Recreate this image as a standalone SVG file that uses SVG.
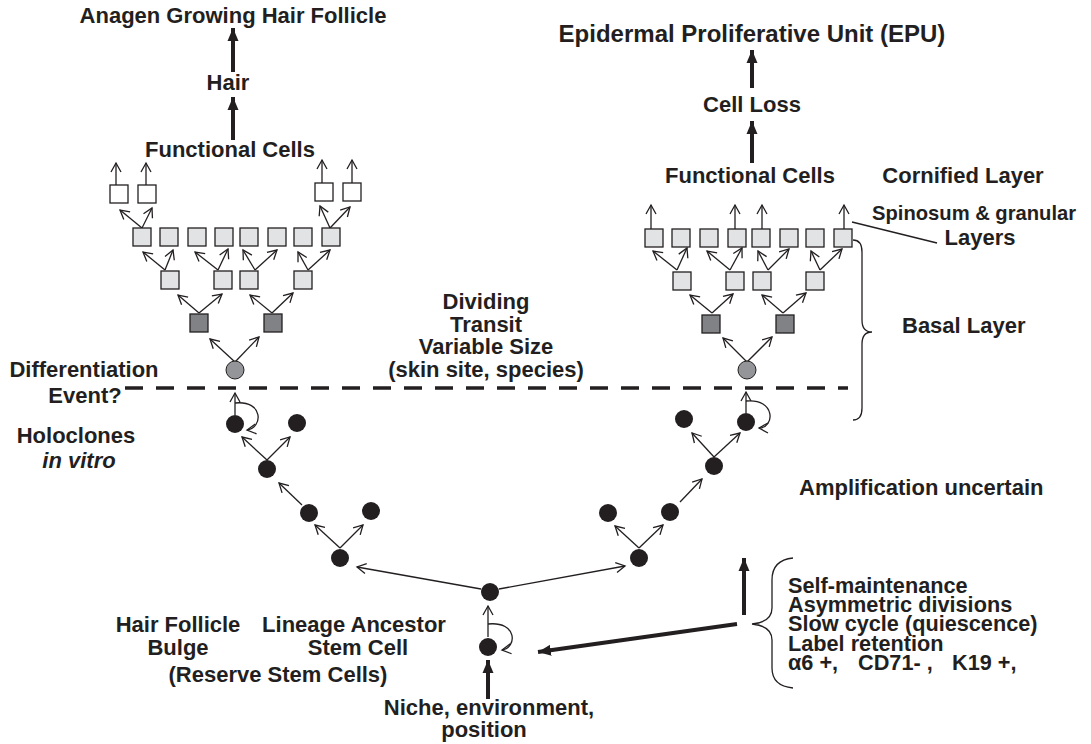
<svg xmlns="http://www.w3.org/2000/svg" width="1091" height="744" viewBox="0 0 1091 744">
<style>
text{font-family:"Liberation Sans",Arial,sans-serif;font-weight:bold;font-size:22px;fill:#231f20}
.m{text-anchor:middle}
.lst{font-size:21.7px}
.ln{stroke:#231f20;stroke-width:1.3;fill:none;marker-end:url(#open)}
.thick{stroke:#231f20;stroke-width:4;fill:none;marker-end:url(#solid)}
.sqW{fill:#ffffff;stroke:#231f20;stroke-width:1.3}
.sqL{fill:#e2e3e4;stroke:#231f20;stroke-width:1.3}
.sqD{fill:#808285;stroke:#231f20;stroke-width:1.3}
.cB{fill:#231f20}
.cG{fill:#939598;stroke:#231f20;stroke-width:1}
.br{stroke:#231f20;stroke-width:1.3;fill:none}
</style>
<defs>
<marker id="open" viewBox="-10 -6 12 12" refX="0" refY="0" markerWidth="12" markerHeight="12" markerUnits="userSpaceOnUse" orient="auto">
<path d="M-9,-5 L0,0 L-9,5" fill="none" stroke="#231f20" stroke-width="1.3"/>
</marker>
<marker id="solid" viewBox="-13 -7 14 14" refX="0" refY="0" markerWidth="14" markerHeight="14" markerUnits="userSpaceOnUse" orient="auto">
<path d="M-13,-5.5 L0,0 L-13,5.5 Z" fill="#231f20"/>
</marker>
</defs>

<!-- Labels -->
<g id="labels">
<text class="m" x="233" y="23">Anagen Growing Hair Follicle</text>
<text class="m" x="228" y="90">Hair</text>
<text class="m" x="230" y="157">Functional Cells</text>
<text class="m" x="752" y="42" style="font-size:24px">Epidermal Proliferative Unit (EPU)</text>
<text class="m" x="752" y="112">Cell Loss</text>
<text class="m" x="750" y="183">Functional Cells</text>
<text class="m" x="963" y="183">Cornified Layer</text>
<text x="872" y="220" style="font-size:20.2px">Spinosum &amp; granular</text>
<text class="m" x="980" y="245">Layers</text>
<text x="902" y="333">Basal Layer</text>
<text class="m" x="486" y="309">Dividing</text>
<text class="m" x="486" y="332">Transit</text>
<text class="m" x="486" y="354">Variable Size</text>
<text class="m" x="486" y="377">(skin site, species)</text>
<text class="m" x="84" y="377">Differentiation</text>
<text class="m" x="85" y="403">Event?</text>
<text class="m" x="76" y="443">Holoclones</text>
<text class="m" x="79" y="468" font-style="italic">in vitro</text>
<text x="799" y="495">Amplification uncertain</text>
<text class="m" x="178" y="632">Hair Follicle</text>
<text class="m" x="178" y="655">Bulge</text>
<text class="m" x="354" y="632">Lineage Ancestor</text>
<text class="m" x="358" y="655">Stem Cell</text>
<text class="m" x="278" y="682">(Reserve Stem Cells)</text>
<text class="m" x="489" y="715">Niche, environment,</text>
<text class="m" x="484" y="737">position</text>
<text class="lst" x="788" y="593">Self-maintenance</text>
<text class="lst" x="788" y="612">Asymmetric divisions</text>
<text class="lst" x="788" y="631">Slow cycle (quiescence)</text>
<text class="lst" x="788" y="651">Label retention</text>
<text class="lst" y="670"><tspan x="788">α6 +,</tspan><tspan x="858">CD71- ,</tspan><tspan x="952">K19 +,</tspan></text>
</g>

<!-- Connectors -->
<g id="connectors">
<line x1="125" y1="388" x2="848" y2="388" stroke="#231f20" stroke-width="3.5" stroke-dasharray="18 13"/>
<line x1="852" y1="222" x2="937" y2="243" stroke="#231f20" stroke-width="1.5"/>
<path class="br" d="M853,240 Q862,240 862,252 L862,320 Q862,332 872,332 Q862,332 862,344 L862,408 Q862,420 853,420"/>
<path class="br" d="M793,558 Q772,560 772,580 L772,608 Q772,622 752,624 Q772,626 772,640 L772,668 Q772,686 793,688"/>

<!-- thick arrows -->
<line class="thick" x1="233" y1="72" x2="233" y2="28"/>
<line class="thick" x1="233" y1="140" x2="233" y2="97"/>
<line class="thick" x1="752" y1="88" x2="752" y2="50"/>
<line class="thick" x1="752" y1="163" x2="752" y2="121"/>
<line class="thick" x1="488" y1="699" x2="488" y2="660"/>
<line class="thick" x1="737" y1="624" x2="538" y2="652"/>
<line class="thick" x1="744" y1="615" x2="744" y2="558"/>

<!-- left upper tree -->
<line class="ln" x1="235" y1="362" x2="210" y2="339"/>
<line class="ln" x1="235" y1="362" x2="259" y2="337"/>
<line class="ln" x1="199" y1="313" x2="178" y2="295"/>
<line class="ln" x1="199" y1="313" x2="222" y2="294"/>
<line class="ln" x1="272" y1="313" x2="250" y2="295"/>
<line class="ln" x1="272" y1="313" x2="293" y2="293"/>
<line class="ln" x1="165" y1="270" x2="143" y2="252"/>
<line class="ln" x1="165" y1="270" x2="173" y2="250"/>
<line class="ln" x1="218" y1="270" x2="195" y2="252"/>
<line class="ln" x1="218" y1="270" x2="228" y2="249"/>
<line class="ln" x1="255" y1="270" x2="243" y2="250"/>
<line class="ln" x1="255" y1="270" x2="277" y2="250"/>
<line class="ln" x1="308" y1="270" x2="298" y2="252"/>
<line class="ln" x1="308" y1="270" x2="330" y2="250"/>
<line class="ln" x1="142" y1="228" x2="120" y2="210"/>
<line class="ln" x1="142" y1="228" x2="152" y2="208"/>
<line class="ln" x1="330" y1="228" x2="320" y2="206"/>
<line class="ln" x1="330" y1="228" x2="350" y2="207"/>
<line class="ln" x1="116" y1="185" x2="116" y2="163"/>
<line class="ln" x1="146" y1="185" x2="146" y2="163"/>
<line class="ln" x1="322" y1="183" x2="322" y2="160"/>
<line class="ln" x1="352" y1="183" x2="352" y2="160"/>

<!-- right upper tree -->
<line class="ln" x1="747" y1="362" x2="723" y2="338"/>
<line class="ln" x1="747" y1="362" x2="772" y2="337"/>
<line class="ln" x1="712" y1="313" x2="690" y2="295"/>
<line class="ln" x1="712" y1="313" x2="733" y2="294"/>
<line class="ln" x1="783" y1="313" x2="762" y2="295"/>
<line class="ln" x1="783" y1="313" x2="806" y2="293"/>
<line class="ln" x1="677" y1="270" x2="653" y2="251"/>
<line class="ln" x1="677" y1="270" x2="687" y2="248"/>
<line class="ln" x1="730" y1="270" x2="707" y2="251"/>
<line class="ln" x1="730" y1="270" x2="742" y2="248"/>
<line class="ln" x1="768" y1="270" x2="758" y2="251"/>
<line class="ln" x1="768" y1="270" x2="789" y2="249"/>
<line class="ln" x1="820" y1="270" x2="811" y2="251"/>
<line class="ln" x1="820" y1="270" x2="842" y2="249"/>
<line class="ln" x1="651" y1="229" x2="651" y2="205"/>
<line class="ln" x1="735" y1="229" x2="735" y2="205"/>
<line class="ln" x1="762" y1="229" x2="762" y2="205"/>
<line class="ln" x1="844" y1="229" x2="844" y2="205"/>

<!-- lower left -->
<line class="ln" x1="481" y1="589" x2="357" y2="567"/>
<line class="ln" x1="340" y1="548" x2="315" y2="525"/>
<line class="ln" x1="340" y1="548" x2="363" y2="525"/>
<line class="ln" x1="302" y1="505" x2="279" y2="483"/>
<line class="ln" x1="267" y1="460" x2="242" y2="437"/>
<line class="ln" x1="267" y1="460" x2="290" y2="437"/>
<line class="ln" x1="235" y1="415" x2="235" y2="393"/>
<path class="ln" d="M235,403 C264,400 263,428 247,430"/>

<!-- lower right -->
<line class="ln" x1="499" y1="589" x2="625" y2="566"/>
<line class="ln" x1="639" y1="548" x2="615" y2="526"/>
<line class="ln" x1="639" y1="548" x2="663" y2="525"/>
<line class="ln" x1="680" y1="502" x2="702" y2="479"/>
<line class="ln" x1="714" y1="457" x2="692" y2="433"/>
<line class="ln" x1="714" y1="457" x2="740" y2="433"/>
<line class="ln" x1="746" y1="413" x2="746" y2="392"/>
<path class="ln" d="M746,401 C776,398 775,428 759,428"/>

<!-- ancestor -->
<line class="ln" x1="488" y1="637" x2="488" y2="606"/>
<path class="ln" d="M488,624 C518,621 517,648 502,650"/>
</g>

<!-- Left upper tree nodes -->
<g id="left-functional">
<rect class="sqW" x="110" y="185" width="18" height="18"/>
<rect class="sqW" x="138" y="185" width="18" height="18"/>
<rect class="sqW" x="315" y="183" width="18" height="18"/>
<rect class="sqW" x="343" y="183" width="18" height="18"/>
</g>
<g id="left-transit3">
<rect class="sqL" x="133" y="228" width="18" height="18"/>
<rect class="sqL" x="160" y="228" width="18" height="18"/>
<rect class="sqL" x="188" y="228" width="18" height="18"/>
<rect class="sqL" x="215" y="228" width="18" height="18"/>
<rect class="sqL" x="240" y="228" width="18" height="18"/>
<rect class="sqL" x="268" y="228" width="18" height="18"/>
<rect class="sqL" x="294" y="228" width="18" height="18"/>
<rect class="sqL" x="322" y="228" width="18" height="18"/>
</g>
<g id="left-transit2">
<rect class="sqL" x="161" y="271" width="18" height="18"/>
<rect class="sqL" x="214" y="271" width="18" height="18"/>
<rect class="sqL" x="240" y="271" width="18" height="18"/>
<rect class="sqL" x="294" y="271" width="18" height="18"/>
</g>
<g id="left-transit1">
<rect class="sqD" x="190" y="314" width="18" height="18"/>
<rect class="sqD" x="264" y="314" width="18" height="18"/>
</g>
<g id="left-committed"><circle class="cG" cx="235" cy="370" r="9"/></g>

<!-- Right upper tree nodes -->
<g id="right-transit3">
<rect class="sqL" x="645" y="229" width="18" height="18"/>
<rect class="sqL" x="672" y="229" width="18" height="18"/>
<rect class="sqL" x="700" y="229" width="18" height="18"/>
<rect class="sqL" x="728" y="229" width="18" height="18"/>
<rect class="sqL" x="752" y="229" width="18" height="18"/>
<rect class="sqL" x="780" y="229" width="18" height="18"/>
<rect class="sqL" x="806" y="229" width="18" height="18"/>
<rect class="sqL" x="834" y="229" width="18" height="18"/>
</g>
<g id="right-transit2">
<rect class="sqL" x="673" y="272" width="18" height="18"/>
<rect class="sqL" x="726" y="272" width="18" height="18"/>
<rect class="sqL" x="753" y="272" width="18" height="18"/>
<rect class="sqL" x="806" y="272" width="18" height="18"/>
</g>
<g id="right-transit1">
<rect class="sqD" x="702" y="315" width="18" height="18"/>
<rect class="sqD" x="776" y="315" width="18" height="18"/>
</g>
<g id="right-committed"><circle class="cG" cx="747" cy="370" r="9"/></g>

<!-- Stem cells -->
<g id="stem-left">
<circle class="cB" cx="235" cy="424" r="9"/>
<circle class="cB" cx="297" cy="423" r="9"/>
<circle class="cB" cx="267" cy="469" r="9"/>
<circle class="cB" cx="309" cy="513" r="9"/>
<circle class="cB" cx="371" cy="511" r="9"/>
<circle class="cB" cx="340" cy="558" r="9"/>
</g>
<g id="stem-right">
<circle class="cB" cx="746" cy="422" r="9"/>
<circle class="cB" cx="684" cy="419" r="9"/>
<circle class="cB" cx="714" cy="466" r="9"/>
<circle class="cB" cx="670" cy="512" r="9"/>
<circle class="cB" cx="608" cy="513" r="9"/>
<circle class="cB" cx="639" cy="558" r="9"/>
</g>
<g id="ancestor">
<circle class="cB" cx="490" cy="592" r="9"/>
<circle class="cB" cx="488" cy="647" r="9"/>
</g>
</svg>
